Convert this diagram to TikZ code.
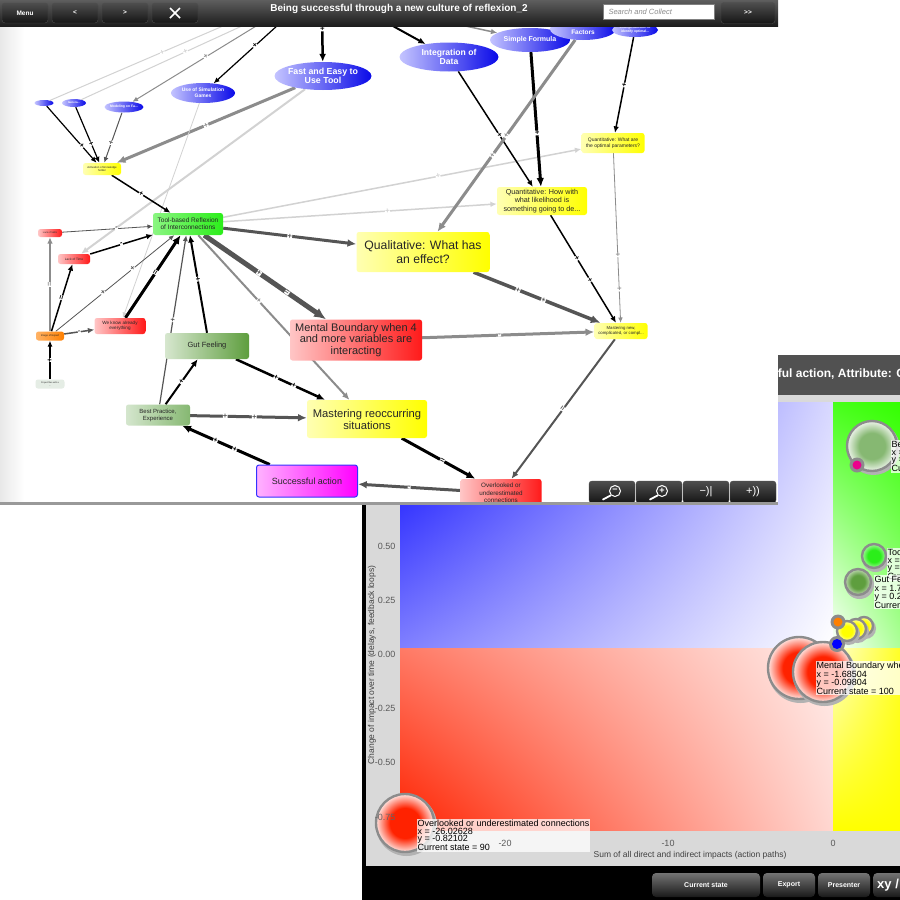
\documentclass[tikz,border=0pt]{standalone}
\usepackage{fontspec}
\setmainfont{Liberation Sans}
\usetikzlibrary{arrows.meta,shapes.geometric,shadings}
\pgfdeclarelayer{back}
\pgfdeclarelayer{links}
\pgfsetlayers{back,links,main}

\definecolor{barlight}{HTML}{5E5E5E}
\definecolor{bardark}{HTML}{1C1C1C}
\definecolor{btnlight}{HTML}{4E4E4E}
\definecolor{btndark}{HTML}{151515}
\definecolor{ovalblue}{HTML}{0A0AE8}
\definecolor{ovallight}{HTML}{C4C4FF}
\definecolor{nodeyellow}{HTML}{FFFF00}
\definecolor{nodered}{HTML}{FF1A1A}
\definecolor{toolgreen}{HTML}{2BEE1A}
\definecolor{gutgreen}{HTML}{5E9E3E}
\definecolor{bestgreen}{HTML}{86B872}
\definecolor{plotred}{HTML}{FF2200}
\definecolor{plotgreen}{HTML}{33FF00}
\definecolor{chartgray}{HTML}{D9D9D9}
\definecolor{chartbar}{HTML}{515151}
\definecolor{lnk}{HTML}{555555}
\definecolor{lnkgray}{HTML}{8C8C8C}
\definecolor{lnklight}{HTML}{D2D2D2}
\colorlet{bubblein}{red}
\colorlet{bubbleout}{white}
\pgfdeclareradialshading[bubblein,bubbleout]{bubble}{\pgfpoint{0bp}{0bp}}{color(0bp)=(bubblein); color(13bp)=(bubblein); color(25bp)=(bubbleout); color(50bp)=(bubbleout)}

\newcommand\fsz[2]{\fontsize{#1}{#2}\selectfont}
\newcommand\Bubble[5]{
  \fill[black!30] (#1+1.5,#2+2.5) circle (#3pt+1.5pt);
  \colorlet{bubblein}{#4}\colorlet{bubbleout}{#4!#5}
  \shade[shading=bubble] (#1,#2) circle (#3pt);
  \draw[black!45,line width=2.4pt] (#1,#2) circle (#3pt);
}
\newcommand\Dot[4]{
  \fill[black!45] (#1,#2) circle (#3pt+3pt);
  \fill[#4] (#1,#2) circle (#3pt);
}
\newcommand\Lens[4]{
  \draw[white,line width=1pt] (#1+3,#2-1) circle (5.5pt);
  \draw[white,line width=1.8pt,line cap=round] (#1-1.5,#2+3.5) -- (#1-9,#2+7.5);
  \node[white,font=\bfseries\fsz{9}{9},inner sep=0pt] (#4) at (#1+3,#2-1.3) {#3};
}

\tikzstyle{box}=[rectangle,rounded corners=2.5pt,inner sep=0pt,align=center,text=black!85]
\tikzstyle{oval}=[ellipse,inner xsep=-20pt,inner ysep=-8pt,align=center,text=white,left color=ovallight,right color=ovalblue]
\tikzstyle{yel}=[box,left color=nodeyellow!30,right color=nodeyellow]
\tikzstyle{redbox}=[box,left color=nodered!25,right color=nodered]
\tikzstyle{tbtn}=[rectangle,rounded corners=3pt,top color=btnlight,bottom color=btndark,draw=black!70,text=white,font=\bfseries\fsz{6.5}{7},inner sep=0pt]
\tikzstyle{cbtn}=[rectangle,rounded corners=4pt,top color=black!55,bottom color=black!90,text=white,font=\bfseries\fsz{7}{8},minimum height=24pt,inner sep=0pt]
\tikzstyle{mk}=[sloped,fill=white,font=\bfseries\fsz{7.5}{7.5},inner sep=0.2pt]
\tikzstyle{lk}=[->,line width=1.2pt]
\tikzstyle{tag}=[fill=white,fill opacity=0.75,text opacity=1,align=left,inner sep=0.5pt,anchor=north west,font=\fsz{9}{7.8}]

\begin{document}
\begin{tikzpicture}[x=1pt,y=-1pt,>={Latex[length=4pt 1.6,width=3.5pt 1.4]},font=\fsz{9}{10}]
\useasboundingbox (0,0) rectangle (900,900);

\begin{pgfonlayer}{back}
  \fill[white] (0,0) rectangle (900,900);
  % chart window
  \fill[black] (362,355) rectangle (900,900);
  \fill[chartbar] (366,355) rectangle (900,395);
  \node[text=white,font=\bfseries\fsz{12}{13},anchor=west,inner sep=0pt] (charttitle) at (729,374) {Successful action, Attribute: Current state};
  \fill[chartgray] (366,395) rectangle (900,866);
  \shade[upper left=blue,upper right=blue!15,lower left=blue!50,lower right=white] (400,402) rectangle (833,648);
  \shade[upper left=plotred!60,upper right=plotred!8,lower left=plotred,lower right=plotred!18] (400,648) rectangle (833,830);
  \shade[upper left=plotgreen!90,upper right=plotgreen,lower left=white,lower right=plotgreen!40] (833,402) rectangle (900,648);
  \shade[upper left=yellow!20,upper right=yellow!85,lower left=yellow,lower right=yellow] (833,648) rectangle (900,830);
  \foreach \v/\yy in {0.50/546,0.25/600,0.00/654,-0.25/708,-0.50/762}
    \node[text=black!65,anchor=east] (ylab\yy) at (399,\yy) {\v};
  \node[text=black!75,font=\fsz{8.5}{9}] (xtitle) at (690,855) {Sum of all direct and indirect impacts (action paths)};
  \node[text=black!75,font=\fsz{8.5}{9},rotate=90] (ytitle) at (372,665) {Change of impact over time (delays, feedback loops)};

  % bubbles
  \Bubble{872}{446}{25}{bestgreen}{15}
  \Dot{857}{465}{4.5}{magenta}
  \Bubble{874}{556}{12}{toolgreen}{45}
  \Bubble{858}{582}{13}{gutgreen}{40}
  \Bubble{864}{626}{9}{yellow}{40}
  \Bubble{856}{629}{10}{yellow}{40}
  \Bubble{847}{631}{10}{yellow}{40}
  \Dot{838}{622}{4.5}{orange}
  \Bubble{799}{668}{31}{plotred}{12}
  \Bubble{823}{672}{30}{plotred}{12}
  \Dot{837}{644}{5}{blue}
  \Bubble{405}{823}{29}{plotred}{12}
  \node[text=black!60,anchor=east] (ylab817) at (399,817) {-0.75};

  \node[tag] (tagbest) at (891,440) {Best Practice, Experience\\x =\\y =\\Current state};
  \node[tag] (tagtool) at (887,548) {Tool-based Reflexion of Interconnections\\x =\\y =\\Current state};
  \node[tag] (taggut) at (874,575) {Gut Feeling\\x = 1.7\\y = 0.2\\Current state};
  \node[tag] (tagmental) at (816,661) {Mental Boundary when 4 and more variables are interacting\\x = -1.68504\\y = -0.09804\\Current state = 100};
  \node[tag] (tagoverl) at (417,819) {Overlooked or underestimated connections\\x = -26.02628\\y = -0.82102\\Current state = 90};
  \foreach \v/\xx in {-20/505,-10/668,0/833}
    \node[text=black!65] (xlab\xx) at (\xx,843) {\v};

  \node[cbtn,minimum width=108pt] (curstate) at (706,885) {Current state};
  \node[cbtn,minimum width=52pt] (export) at (789,885) {Export};
  \node[cbtn,minimum width=52pt] (presenter) at (844,885) {Presenter};
  \node[cbtn,minimum width=60pt,anchor=west] (xybtn) at (873,885) {};
  \node[text=white,font=\bfseries\fsz{13}{13},anchor=west,inner sep=0pt] (xytext) at (877,885) {xy /};

  % map window
  \fill[white] (0,0) rectangle (778,503);
  \shade[left color=black!9,right color=white] (0,26) rectangle (24,503);
\end{pgfonlayer}

% ellipses
\node[oval,minimum width=97pt,minimum height=28pt,font=\bfseries\fsz{8.8}{9.5}] (fast) at (323,76) {Fast and Easy to\\Use Tool};
\node[oval,minimum width=99pt,minimum height=29pt,font=\bfseries\fsz{8.6}{9.8}] (integ) at (449,57) {Integration of\\Data};
\node[oval,minimum width=80pt,minimum height=24pt,font=\bfseries\fsz{7}{8}] (simple) at (530,40) {Simple Formula};
\node[oval,minimum width=66pt,minimum height=22pt,font=\bfseries\fsz{6.5}{7}] (factors) at (583,29) {Robustness of\\Factors};
\node[oval,minimum width=46pt,minimum height=14pt,font=\bfseries\fsz{3.4}{4}] (optfunc) at (635,30) {Change/function to\\identify optimal...};
\node[oval,minimum width=64pt,minimum height=20pt,font=\bfseries\fsz{5}{6}] (sim) at (203,93) {Use of Simulation\\Games};
\node[oval,minimum width=19pt,minimum height=6pt] (ea) at (44,103) {};
\node[oval,minimum width=24pt,minimum height=8pt,font=\bfseries\fsz{2.8}{3}] (eb) at (74,103) {Genera...};
\node[oval,minimum width=39pt,minimum height=11pt,font=\bfseries\fsz{3.4}{4}] (ec) at (124,107) {Modeling on Fa...};

% boxes
\node[yel,minimum width=38pt,minimum height=12pt,font=\fsz{2.8}{3.3}] (activ) at (102,169) {Activation of knowledge\\holder};
\node[box,left color=toolgreen!55,right color=toolgreen,minimum width=70pt,minimum height=22pt,font=\fsz{6.5}{7.3}] (tool) at (188,224) {Tool-based Reflexion\\of Interconnections};
\node[yel,minimum width=133pt,minimum height=40pt,font=\fsz{12.2}{13.5}] (quali) at (423,252) {Qualitative: What has\\an effect?};
\node[yel,minimum width=90pt,minimum height=28pt,font=\fsz{7.2}{8.3}] (qhow) at (542,201) {Quantitative: How with\\what likelihood is\\something going to de...};
\node[yel,minimum width=63pt,minimum height=20pt,font=\fsz{5}{6}] (qopt) at (613,143) {Quantitative: What are\\the optimal parameters?};
\node[yel,minimum width=53pt,minimum height=16pt,font=\fsz{4.3}{5}] (mastnew) at (621,331) {Mastering new,\\complicated, or compl...};
\node[redbox,minimum width=132pt,minimum height=41pt,font=\fsz{11}{11.7}] (mental) at (356,340) {Mental Boundary when 4\\and more variables are\\interacting};
\node[yel,minimum width=120pt,minimum height=38pt,font=\fsz{11.2}{12}] (mastreo) at (367,419) {Mastering reoccurring\\situations};
\node[box,left color=gutgreen!25,right color=gutgreen,minimum width=84pt,minimum height=26pt,font=\fsz{7.5}{8}] (gut) at (207,346) {Gut Feeling};
\node[box,left color=bestgreen!35,right color=bestgreen,minimum width=64pt,minimum height=21pt,font=\fsz{6}{7}] (best) at (158,415) {Best Practice,\\Experience};
\node[box,left color=magenta!30,right color=magenta,draw=blue!80,line width=1pt,minimum width=101pt,minimum height=32pt,font=\fsz{9}{10}] (success) at (307,481) {Successful action};
\begin{scope}
  \clip (0,0) rectangle (778,503);
  \node[redbox,minimum width=81pt,minimum height=28pt,font=\fsz{6.3}{7.3}] (overl) at (501,493) {Overlooked or\\underestimated\\connections};
\end{scope}
\node[redbox,minimum width=51pt,minimum height=16pt,font=\fsz{4.6}{5.5}] (weknow) at (120,326) {We know already\\everything};
\node[redbox,minimum width=24pt,minimum height=8pt,font=\fsz{2.4}{3}] (skills) at (50,233) {Lack of Skills};
\node[redbox,minimum width=32pt,minimum height=10pt,font=\fsz{3.2}{4}] (lacktime) at (74,259) {Lack of Time};
\node[box,left color=orange!60,right color=orange,minimum width=28pt,minimum height=9pt,font=\fsz{2.6}{3}] (expert) at (50,336) {Image of Expert};
\node[box,fill=green!30!black!10,minimum width=29pt,minimum height=9pt,font=\fsz{2.2}{2.6}] (project) at (50,384) {Project files with a\\...};

% connectors
\begin{pgfonlayer}{links}
  \coordinate (inA) at (289,15);
  \coordinate (inB) at (322,15);
  \coordinate (inC) at (373,15);
  \coordinate (inD) at (415,15);
  \coordinate (inE) at (237,20);
  \coordinate (inF) at (255,20);
  \coordinate (inG) at (266,20);
  \draw[lk,black] (inA) -- node[mk,pos=.45]{+} (sim);
  \draw[lk,black,line width=2.5pt] (inB) -- node[mk,pos=.3]{+} (fast);
  \draw[lk,black,line width=2pt] (inC) -- (integ);
  \draw[lk,lnkgray,line width=1.5pt] (inD) -- (simple);
  \draw[lnklight,line width=1pt] (inE) -- node[mk,pos=.4]{+} (ea);
  \draw[lnklight,line width=1pt] (inF) -- node[mk,pos=.4]{+} (eb);
  \draw[lk,lnkgray,line width=1pt] (inG) -- node[mk,pos=.45]{+} (ec);
  \draw[lk,black] (ea) -- node[mk,pos=.7]{+} (activ);
  \draw[lk,black] (eb) -- node[mk,pos=.65]{+} (activ);
  \draw[lk,lnk,line width=1pt] (ec) -- node[mk,pos=.6]{+} (activ);
  \draw[lk,lnkgray,line width=3pt] (fast) -- node[mk,pos=.5]{+} (activ);
  \draw[lk,lnklight,line width=2pt] (fast) -- (lacktime);
  \draw[lk,lnklight,line width=0.8pt] (sim) -- (weknow);
  \draw[lk,black,line width=1.5pt] (activ) -- node[mk,pos=.5]{+} (tool);
  \draw[lk,lnk,line width=0.8pt] (skills) -- node[mk,pos=.6]{-} (tool);
  \draw[lk,black,line width=1.5pt] (lacktime) -- node[mk,pos=.5]{-} (tool);
  \draw[lk,lnkgray,line width=1.5pt] (expert) -- node[mk,pos=.5]{=} (skills);
  \draw[lk,black,line width=1.5pt] (expert) -- node[mk,pos=.5]{=} (lacktime);
  \draw[lk,lnk,line width=0.8pt] (expert) -- node[mk,pos=.4]{+} node[mk,pos=.65]{+} (tool);
  \draw[lk,lnk,line width=1.5pt] (expert) -- node[mk,pos=.5]{-} (weknow);
  \draw[lk,black,line width=1.2pt] (project) -- node[mk,pos=.5]{+} (expert);
  \draw[lk,black,line width=3pt] (weknow) -- node[mk,pos=.55]{=} (tool);
  \draw[lk,black,line width=2pt] (gut.north) -- node[mk,pos=.55]{+} (tool);
  \draw[lk,lnk,line width=1.2pt] (best) -- node[mk,pos=.5]{+} (tool);
  \draw[lk,black,line width=2pt] (best) -- node[mk,pos=.5]{+} (gut);
  \draw[lk,lnk,line width=3pt] (best) -- node[mk,pos=.3]{+} node[mk,pos=.55]{+} (mastreo);
  \draw[lk,black,line width=3pt] (success) -- node[mk,pos=.4]{+} node[mk,pos=.62]{+} (best);
  \draw[lk,black,line width=2.5pt] (gut) -- node[mk,pos=.45]{+} node[mk,pos=.65]{+} (mastreo);
  \draw[lk,lnk,line width=3pt] (tool) -- node[mk,pos=.5]{+} (quali);
  \draw[lk,lnk,line width=5pt] (tool) -- node[mk,pos=.45]{+} node[mk,pos=.68]{=} (mental);
  \draw[lk,lnkgray,line width=2pt] (tool) -- node[mk,pos=.4]{+} (mastreo);
  \draw[lk,lnklight,line width=1.5pt] (tool) -- node[mk,pos=.6]{+} (qopt);
  \draw[lk,lnklight,line width=1.5pt] (tool) -- node[mk,pos=.6]{+} (qhow);
  \draw[lk,black,line width=1.5pt] (integ) -- node[mk,pos=.55]{+} (qhow);
  \draw[lk,black,line width=3pt] (simple) -- node[mk,pos=.6]{+} (qhow);
  \draw[lk,lnkgray,line width=3pt] (factors) -- node[mk,pos=.5]{+} node[mk,pos=.6]{+} (quali);
  \draw[lk,black,line width=1.5pt] (optfunc) -- node[mk,pos=.5]{+} (qopt);
  \draw[lk,lnkgray,line width=0.8pt] (qopt) -- node[mk,pos=.6]{+} node[mk,pos=.8]{+} (mastnew);
  \draw[lk,black,line width=1.5pt] (qhow) -- node[mk,pos=.4]{+} node[mk,pos=.6]{+} (mastnew);
  \draw[lk,lnk,line width=3.5pt] (quali) -- node[mk,pos=.35]{+} node[mk,pos=.55]{+} (mastnew);
  \draw[lk,lnkgray,line width=3pt] (mental) -- node[mk,pos=.45]{-} (mastnew);
  \draw[lk,lnk,line width=2pt] (mastnew) -- node[mk,pos=.5]{=} (overl);
  \draw[lk,black,line width=3pt] (mastreo) -- node[mk,pos=.55]{=} (overl);
  \draw[lk,lnk,line width=3pt] (overl) -- node[mk,pos=.5]{-} (success);
\end{pgfonlayer}

% toolbar
\shade[top color=barlight,bottom color=bardark] (0,0) rectangle (778,26);
\node[tbtn,minimum width=46pt,minimum height=20pt] (menu) at (25,13) {Menu};
\node[tbtn,minimum width=46pt,minimum height=20pt] (prev) at (75,13) {<};
\node[tbtn,minimum width=46pt,minimum height=20pt] (next) at (125,13) {>};
\node[tbtn,minimum width=46pt,minimum height=20pt] (fullscr) at (175,13) {};
\draw[white,line width=1.5pt] (170,8) -- (180,18) (180,8) -- (170,18);
\node[text=white,font=\bfseries\fsz{10}{11}] (title) at (399,9) {Being successful through a new culture of reflexion\_2};
\node[draw=black!50,fill=white,minimum width=111pt,minimum height=15pt,inner sep=0pt] (search) at (659,12) {};
\node[anchor=west,text=black!45,font=\itshape\fsz{7.5}{8}] (searchtext) at (605,12) {Search and Collect};
\node[tbtn,minimum width=54pt,minimum height=21pt] (more) at (748,13) {>{}>};

% zoom buttons
\node[tbtn,minimum width=46pt,minimum height=22pt] (zoomout) at (612,492) {};
\node[tbtn,minimum width=46pt,minimum height=22pt] (zoomin) at (659,492) {};
\node[tbtn,minimum width=46pt,minimum height=22pt,font=\fsz{11}{11}] (fewer) at (706,492) {−)|};
\node[tbtn,minimum width=46pt,minimum height=22pt,font=\fsz{11}{11}] (louder) at (753,492) {+))};
\Lens{612}{492}{−}{lensout}
\Lens{659}{492}{+}{lensin}
\fill[black!40] (0,502) rectangle (778,505);
\end{tikzpicture}
\end{document}
